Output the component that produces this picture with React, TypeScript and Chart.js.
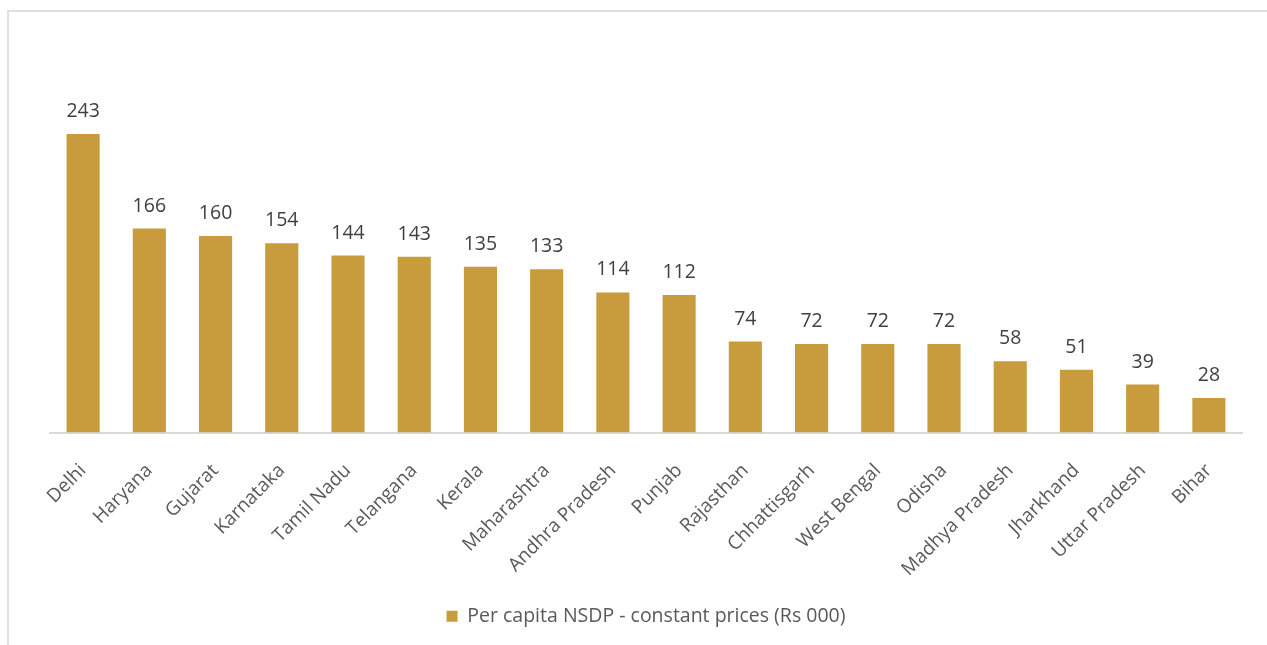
import React, { useEffect, useRef } from "react";
import { Chart, registerables } from "chart.js";

Chart.register(...registerables);

const categories = [
  "Delhi", "Haryana", "Gujarat", "Karnataka", "Tamil Nadu", "Telangana", "Kerala",
  "Maharashtra", "Andhra Pradesh", "Punjab", "Rajasthan", "Chhattisgarh", "West Bengal",
  "Odisha", "Madhya Pradesh", "Jharkhand", "Uttar Pradesh", "Bihar",
];
const values = [243, 166, 160, 154, 144, 143, 135, 133, 114, 112, 74, 72, 72, 72, 58, 51, 39, 28];
const seriesLabel = "Per capita NSDP - constant prices (Rs 000)";
const yMax = 300;

const BAR = "#C89B3C";
const FONT = "'Open Sans', sans-serif";

const valueLabels = {
  id: "valueLabels",
  afterDatasetsDraw(chart: any) {
    const ctx = chart.ctx;
    const meta = chart.getDatasetMeta(0);
    ctx.save();
    ctx.font = "19.5px 'Open Sans', sans-serif";
    ctx.fillStyle = "#404040";
    ctx.textAlign = "center";
    ctx.textBaseline = "alphabetic";
    meta.data.forEach((bar: any, i: number) => {
      ctx.fillText(String(chart.data.datasets[0].data[i]), bar.x, bar.y - 17);
    });
    ctx.restore();
  },
};

export default function App() {
  const ref = useRef<HTMLCanvasElement>(null);
  useEffect(() => {
    if (!ref.current) return;
    const chart = new Chart(ref.current, {
      type: "bar",
      data: {
        labels: categories,
        datasets: [
          {
            label: seriesLabel,
            data: values,
            backgroundColor: BAR,
            borderWidth: 0,
            barPercentage: 0.5,
            categoryPercentage: 1,
          },
        ],
      },
      options: {
        responsive: false,
        animation: false,
        layout: { padding: { left: 50, right: 25, top: 64, bottom: 9 } },
        plugins: {
          tooltip: { enabled: false },
          legend: {
            position: "bottom",
            labels: {
              color: "#595959",
              font: { family: FONT, size: 19.5 },
              boxWidth: 11,
              boxHeight: 11,
              padding: 10,
            },
          },
        },
        scales: {
          x: {
            grid: { display: false },
            border: { display: true, color: "#d9d9d9", width: 2 },
            ticks: {
              color: "#595959",
              font: { family: FONT, size: 19 },
              minRotation: 45,
              maxRotation: 45,
              autoSkip: false,
              padding: 19,
            },
            afterFit(scale: any) {
              scale.height = 164;
            },
          },
          y: { display: false, min: 0, max: yMax },
        },
      },
      plugins: [valueLabels],
    });
    return () => chart.destroy();
  }, []);

  return (
    <div style={{ position: "fixed", left: 0, top: 0, width: 1267, height: 645, background: "#fff" }}>
      <div
        style={{
          position: "absolute",
          left: 7,
          top: 10,
          width: 1270,
          height: 640,
          borderLeft: "2px solid #e0e0e0",
          borderTop: "2px solid #e0e0e0",
        }}
      />
      <canvas ref={ref} width={1267} height={645} style={{ position: "absolute", left: 0, top: 0, display: "block" }} />
    </div>
  );
}
